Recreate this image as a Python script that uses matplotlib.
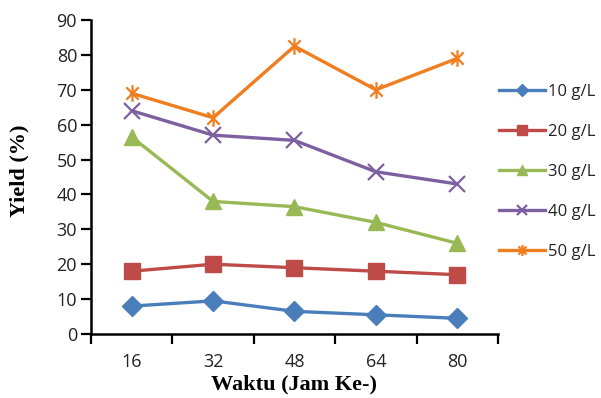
import numpy as np
import matplotlib.pyplot as plt
from matplotlib.path import Path

# data
waktu = ["16", "32", "48", "64", "80"]
yield_10 = [8.0, 9.5, 6.5, 5.5, 4.5]
yield_20 = [18.0, 20.0, 19.0, 18.0, 17.0]
yield_30 = [56.5, 38.0, 36.5, 32.0, 26.0]
yield_40 = [64.0, 57.0, 55.5, 46.5, 43.0]
yield_50 = [69.0, 62.0, 82.5, 70.0, 79.0]
labels = ["10 g/L", "20 g/L", "30 g/L", "40 g/L", "50 g/L"]

# Excel-style star marker (x with vertical bar)
star = Path([(-1, -1), (1, 1), (-1, 1), (1, -1), (0, -1.35), (0, 1.35)],
            [Path.MOVETO, Path.LINETO, Path.MOVETO, Path.LINETO, Path.MOVETO, Path.LINETO])

series = [
    (yield_10, "#4A7EBB", "D", 10),
    (yield_20, "#BE4B48", "s", 11),
    (yield_30, "#98B954", "^", 12),
    (yield_40, "#7D60A0", "x", 11),
    (yield_50, "#F07D1E", star, 12),
]

fig = plt.figure(figsize=(6.01, 3.98), dpi=100)
ax = fig.add_axes([0.1514, 0.1608, 0.6772, 0.7889])

x = np.arange(len(waktu))
for (vals, col, mk, ms), lab in zip(series, labels):
    ax.plot(x, vals, color=col, lw=2.4, marker=mk, markersize=ms,
            markeredgewidth=1.6 if (mk == "x" or mk is star) else 1,
            markerfacecolor=col, markeredgecolor=col, label=lab)

ax.set_xlim(-0.5, len(waktu) - 0.5)
ax.set_ylim(0, 90)
ax.set_yticks(np.arange(0, 91, 10))
ax.set_xticks(x)
ax.set_xticklabels(waktu)
ax.set_xticks(np.arange(-0.5, len(waktu), 1), minor=True)
ax.tick_params(axis="x", which="major", length=0, pad=14, labelsize=13)
ax.tick_params(axis="x", which="minor", length=7, width=1.6, direction="out")
ax.tick_params(axis="y", length=7, width=1.6, direction="out", labelsize=13, pad=3)
for lbl in ax.get_xticklabels() + ax.get_yticklabels():
    lbl.set_fontfamily("Open Sans")
    lbl.set_color("#222222")

for s in ["top", "right"]:
    ax.spines[s].set_visible(False)
for s in ["left", "bottom"]:
    ax.spines[s].set_linewidth(1.8)

ax.set_ylabel("Yield (%)", fontfamily="Liberation Serif", fontweight="bold", fontsize=16)
ax.yaxis.set_label_coords(-0.15, 0.52)
ax.set_xlabel("Waktu (Jam Ke-)", fontfamily="Liberation Serif", fontweight="bold", fontsize=16)
ax.xaxis.set_label_coords(0.5, -0.13)

leg = fig.legend(*ax.get_legend_handles_labels(), loc="upper left",
                 bbox_to_anchor=(0.830, 0.790), frameon=False,
                 borderpad=0, borderaxespad=0,
                 handlelength=2.75, handletextpad=0.22, labelspacing=1.44,
                 markerscale=0.65, prop={"family": "Open Sans", "size": 12})
for t in leg.get_texts():
    t.set_color("#222222")

fig.savefig("out.png", dpi=100)
